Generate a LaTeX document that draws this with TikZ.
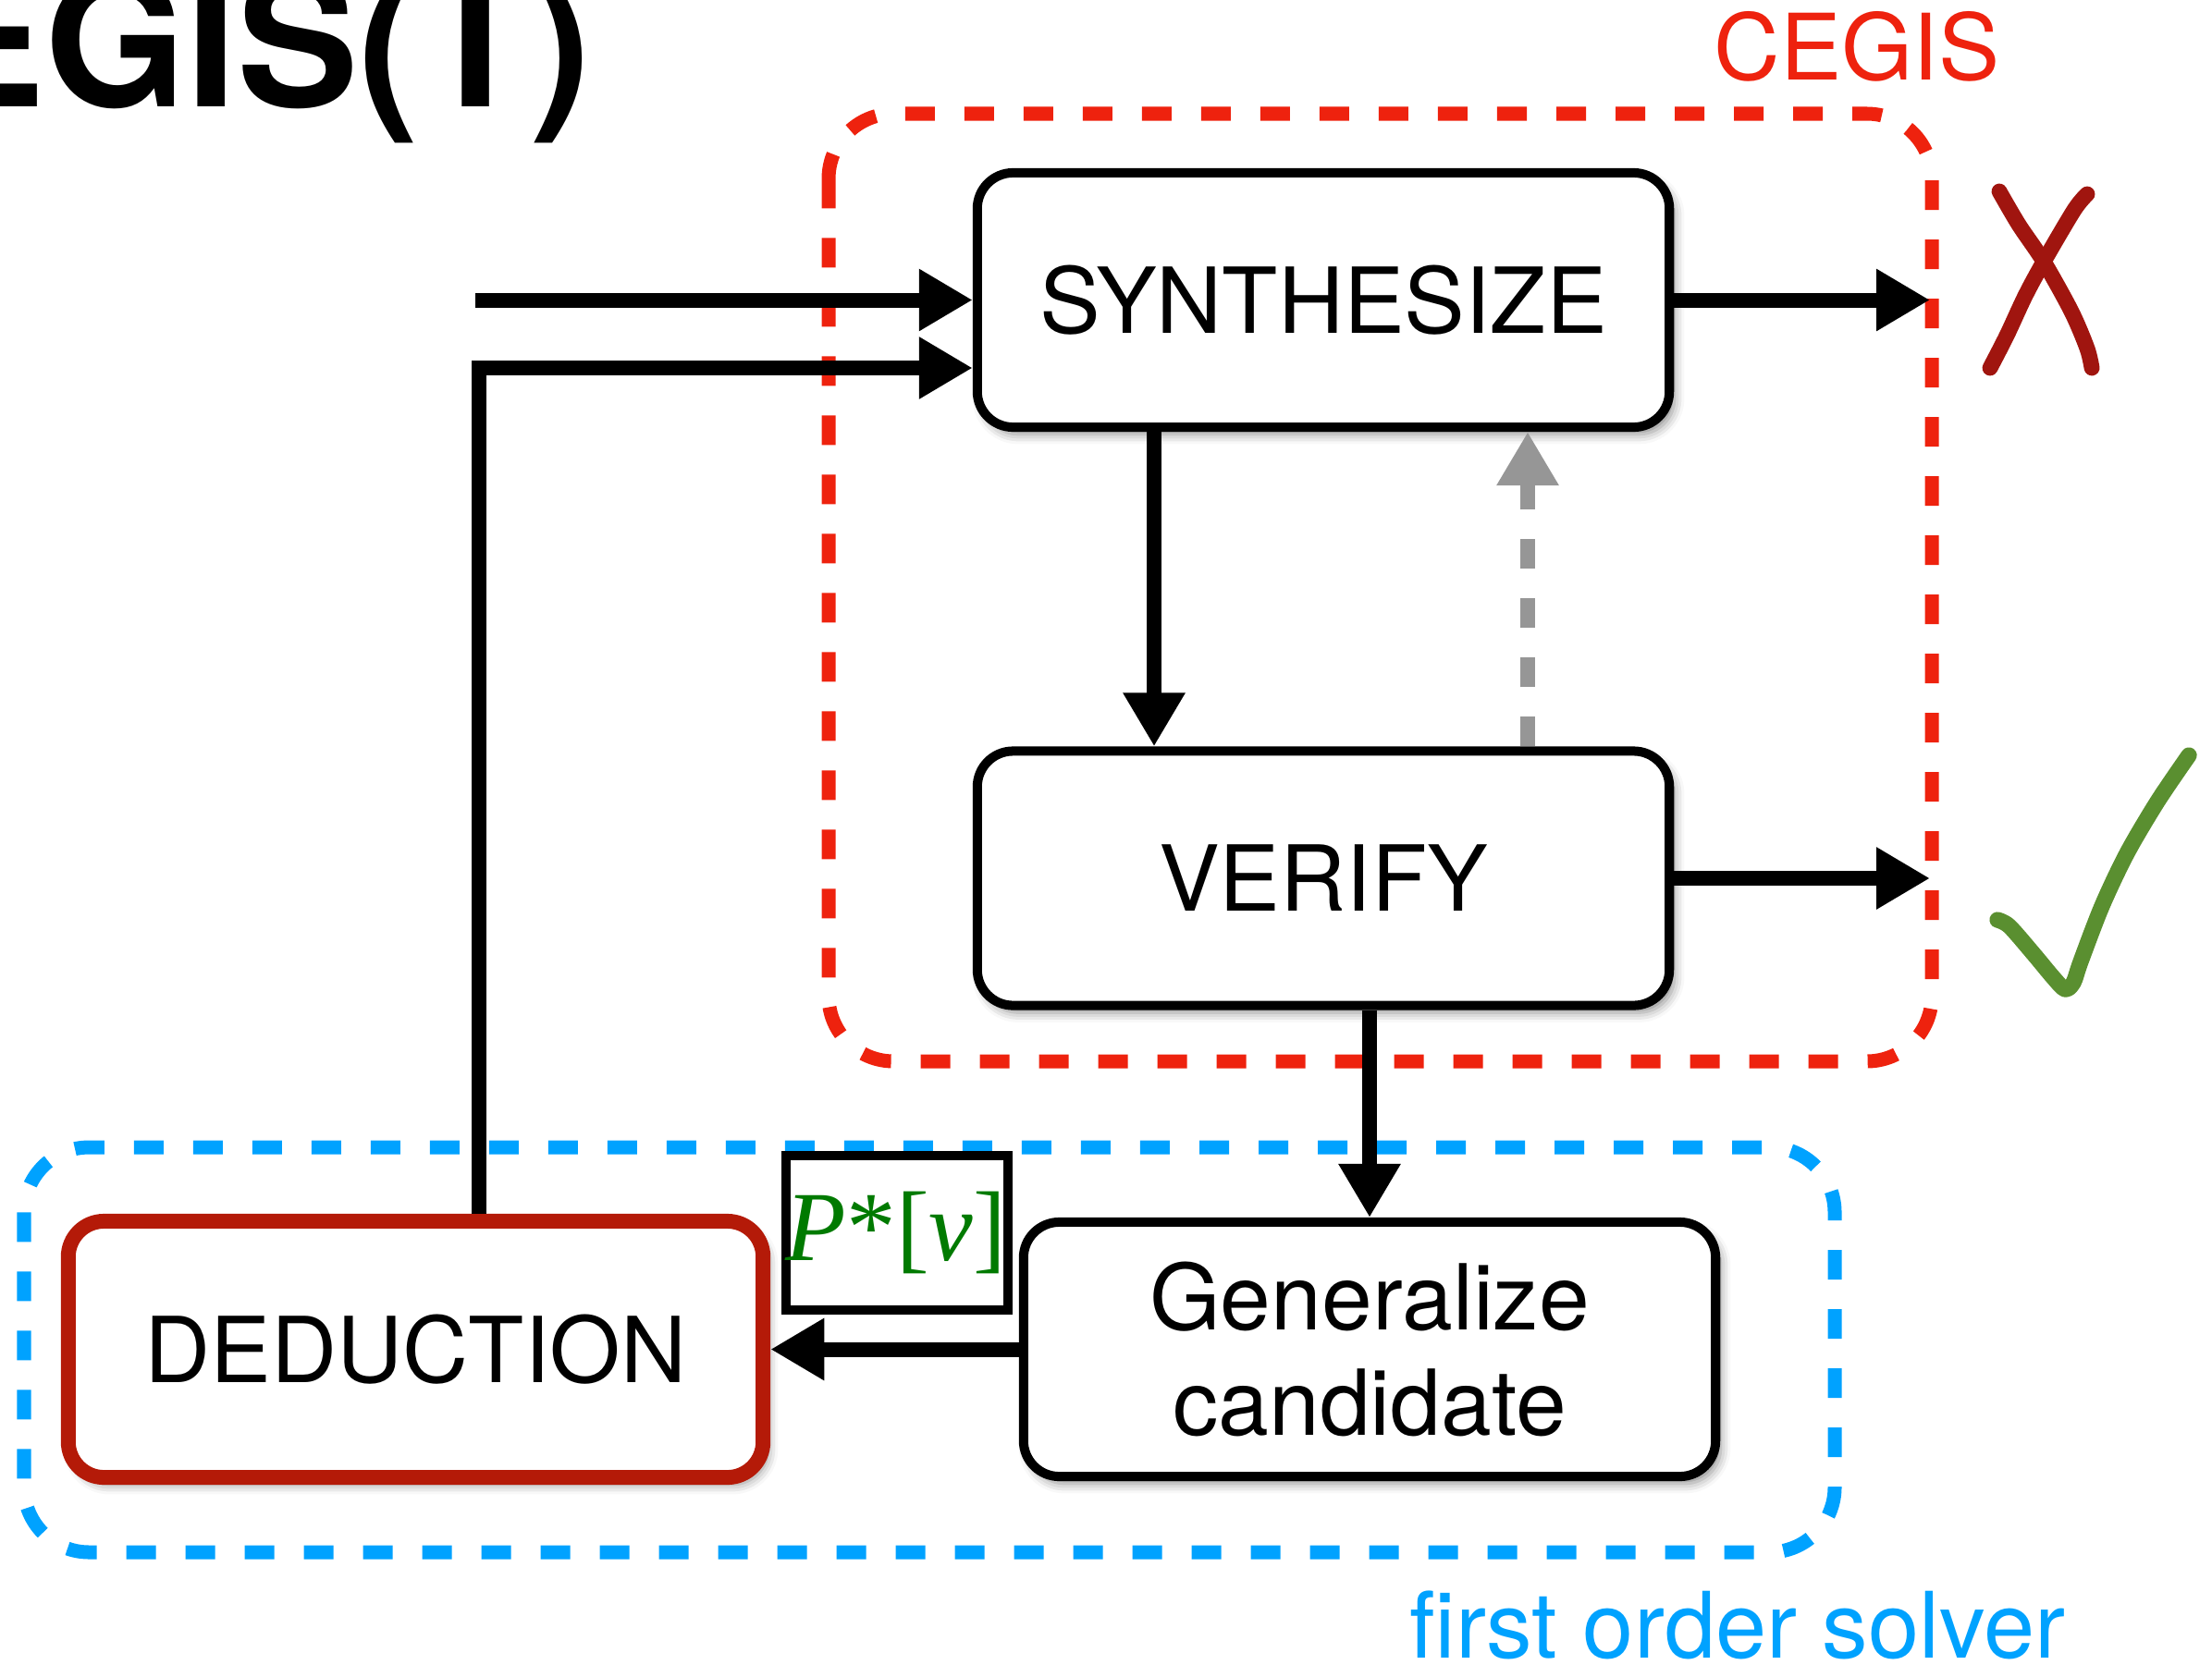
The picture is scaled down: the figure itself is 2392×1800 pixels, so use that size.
\documentclass[tikz,border=0pt]{standalone}
\usepackage{fontspec}
\setmainfont{TeX Gyre Heros}
\newfontfamily\pvfont{Liberation Serif}
\usetikzlibrary{arrows.meta,shadows.blur,calc}

\definecolor{cegisred}{RGB}{238,34,14}
\definecolor{solverblue}{RGB}{0,162,255}
\definecolor{dedred}{RGB}{180,26,8}
\definecolor{crossred}{RGB}{160,21,15}
\definecolor{tickgreen}{RGB}{90,143,48}
\definecolor{pvgreen}{RGB}{0,122,0}
\definecolor{fbgray}{RGB}{150,150,150}

\begin{document}
\begin{tikzpicture}[x=0.01cm,y=-0.01cm,
  boxshadow/.style={blur shadow={shadow xshift=1.6pt, shadow yshift=-2.2pt,
      shadow blur radius=3pt, shadow opacity=45}},
  stagebox/.style={draw, line width=2.85pt, rounded corners=11pt, fill=white,
      inner sep=0pt, minimum width=7.48cm, minimum height=2.75cm,
      font=\fontsize{28}{32.2}\selectfont, align=center, boxshadow},
  conn/.style={line width=4.55pt, -{Triangle[length=16.5pt,width=18pt]}},
  feedback/.style={draw=fbgray, line width=4.55pt, dash pattern=on 9.1pt off 9.1pt,
      -{Triangle[length=16.5pt,width=18pt]}},
  frame/.style={line width=4.27pt, dash pattern=on 9.1pt off 9.1pt, rounded corners=20pt},
  biglabel/.style={font=\fontsize{28.2}{32}\selectfont, anchor=base},
  stroke/.style={line cap=round, line join=round}
]
\path[use as bounding box] (0,0) rectangle (2392,1800);

% heading, partly outside the page
\node[anchor=base east, inner sep=0pt, font=\fontsize{56}{60}\selectfont\bfseries]
  (title) at (640,116) {CEGIS(T)};

% loop frames
\draw[frame, draw=cegisred] (896,123) rectangle (2089,1148);
\draw[frame, draw=solverblue] (26,1241) rectangle (1984,1679);
\node[biglabel, text=cegisred] (cegislabel) at (2008,87) {CEGIS};
\node[biglabel, text=solverblue] (solverlabel) at (1879,1793) {first order solver};

% stages
\node[stagebox] (synth) at (1431,324.5) {SYNTHESIZE};
\node[stagebox] (verify) at (1431,950) {VERIFY};
\node[stagebox] (gen) at (1481,1459.5) {Generalize\\candidate};
\node[stagebox, draw=dedred, line width=4.55pt, minimum width=7.51cm, minimum height=2.77cm]
  (ded) at (449.5,1459.5) {DEDUCTION};

% candidate passed back to deduction
\node[draw, line width=2.85pt, fill=white, inner sep=0pt, minimum width=2.4cm,
  minimum height=1.67cm] (pvbox) at (970,1333.5) {};
\node[anchor=base, inner sep=0pt, text=pvgreen, font=\pvfont\fontsize{30.5}{32}\selectfont]
  (pv) at (969,1363) {\textit{P}*[\textit{v}]};

% helper coordinates
\coordinate (in1) at (514,324.5);
\coordinate (fbx) at (518,398);
\coordinate (edge) at (2087,0);
\coordinate (sv) at (1248,0);
\coordinate (vs) at (1652,0);

% connectors
\draw[conn] (in1) -- (in1 -| synth.west);
\draw[conn] (fbx |- ded.north) -- (fbx) -- (fbx -| synth.west);
\draw[conn] (synth.east) -- (synth.east -| edge);
\draw[conn] (verify.east) -- (verify.east -| edge);
\draw[conn] (sv |- synth.south) -- (sv |- verify.north);
\draw[feedback] (vs |- verify.north) -- (vs |- synth.south);
\draw[conn] (gen.north |- verify.south) -- (gen.north);
\draw[conn] (ded.east -| gen.west) -- (ded.east);

% outcome marks
\draw[stroke, draw=crossred, line width=4.8pt] plot[smooth] coordinates
  {(2162,207) (2183,243) (2210,283) (2240,337) (2257,377) (2262,398)};
\draw[stroke, draw=crossred, line width=4.8pt] plot[smooth] coordinates
  {(2257,210) (2243,227) (2210,283) (2190,320) (2170,363) (2152,398)};
\draw[stroke, draw=tickgreen, line width=4.9pt] plot[smooth] coordinates
  {(2160,995) (2173,1002) (2200,1033) (2220,1057) (2233,1070) (2242,1063)
   (2250,1040) (2273,980) (2300,923) (2333,867) (2367,817)};
\end{tikzpicture}
\end{document}
